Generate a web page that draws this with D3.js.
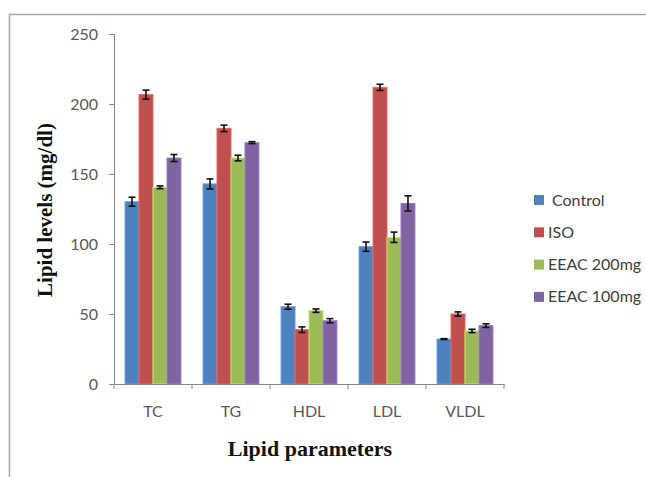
<!DOCTYPE html>
<html>
<head>
<meta charset="utf-8">
<script src="https://cdn.jsdelivr.net/npm/d3@7"></script>
<style>
  body { margin: 0; background: #fff; }
  svg { display: block; }
</style>
</head>
<body>
<div id="chart"></div>
<script>
const categories = ["TC", "TG", "HDL", "LDL", "VLDL"];
const groups = ["Control", "ISO", "EEAC 200mg", "EEAC 100mg"];
const colors = ["#4f81bd", "#c0504d", "#9bbb59", "#8064a2"];

const control = [130.2, 142.9, 55.2, 98.1, 32.1];
const iso = [206.7, 182.6, 38.8, 211.9, 50.0];
const eeac200 = [140.5, 161.4, 52.4, 104.8, 37.9];
const eeac100 = [161.4, 172.4, 45.2, 129.0, 41.7];

const controlErr = [3.2, 3.6, 1.8, 3.3, 0.3];
const isoErr = [3.2, 2.3, 2.0, 2.2, 1.5];
const eeac200Err = [1.0, 2.0, 1.2, 3.7, 1.2];
const eeac100Err = [2.5, 0.7, 1.5, 5.4, 1.3];

const yTicks = [0, 50, 100, 150, 200, 250];

const seriesValues = [control, iso, eeac200, eeac100];
const seriesErrors = [controlErr, isoErr, eeac200Err, eeac100Err];

const width = 646;
const height = 477;
const margin = { top: 34, left: 114, bottom: 93, plotRight: 504 };

const svg = d3.select("#chart")
  .append("svg")
  .attr("width", width)
  .attr("height", height);

// outer chart frame (only top & left show in the crop)
svg.append("rect")
  .attr("x", 9.5)
  .attr("y", 14.5)
  .attr("width", 700)
  .attr("height", 500)
  .attr("fill", "none")
  .attr("stroke", "#a6a6a6")
  .attr("stroke-width", 1.5);

const x = d3.scaleBand()
  .domain(categories)
  .range([margin.left, margin.plotRight]);

const xInner = d3.scaleBand()
  .domain(groups)
  .range([0, x.bandwidth()])
  .paddingOuter(0.79)
  .paddingInner(0);

const y = d3.scaleLinear()
  .domain([0, 250])
  .range([height - margin.bottom, margin.top]);

const axisColor = "#868686";
const labelFont = "Lato, 'Open Sans', sans-serif";

// y axis
const yAxis = svg.append("g")
  .attr("transform", `translate(${margin.left},0)`)
  .call(d3.axisLeft(y).tickValues(yTicks).tickSize(5).tickPadding(11));
yAxis.select(".domain").attr("stroke", axisColor);
yAxis.selectAll(".tick line").attr("stroke", axisColor);
yAxis.selectAll(".tick text")
  .attr("fill", "#595959")
  .attr("font-family", labelFont)
  .attr("font-size", 16);

// bars
const series = svg.append("g")
  .selectAll("g")
  .data(groups)
  .join("g")
  .attr("fill", (d, i) => colors[i]);

series.each(function (g, si) {
  const rows = categories.map((c, ci) => ({
    cat: c,
    value: seriesValues[si][ci],
    err: seriesErrors[si][ci]
  }));
  const sel = d3.select(this);
  sel.selectAll("rect")
    .data(rows)
    .join("rect")
    .attr("x", (d) => x(d.cat) + xInner(g))
    .attr("y", (d) => y(d.value))
    .attr("width", xInner.bandwidth())
    .attr("height", (d) => y(0) - y(d.value))
    .attr("stroke", d3.color(colors[si]).brighter(0.6))
    .attr("stroke-width", 1);

  const eb = sel.selectAll("g.err")
    .data(rows)
    .join("g")
    .attr("class", "err")
    .attr("stroke", "#111")
    .attr("stroke-width", 1.6);
  const cx = (d) => x(d.cat) + xInner(g) + xInner.bandwidth() / 2;
  eb.append("line")
    .attr("x1", cx).attr("x2", cx)
    .attr("y1", (d) => y(d.value + d.err))
    .attr("y2", (d) => y(d.value - d.err));
  eb.append("line")
    .attr("x1", (d) => cx(d) - 3.5).attr("x2", (d) => cx(d) + 3.5)
    .attr("y1", (d) => y(d.value + d.err)).attr("y2", (d) => y(d.value + d.err));
  eb.append("line")
    .attr("x1", (d) => cx(d) - 3.5).attr("x2", (d) => cx(d) + 3.5)
    .attr("y1", (d) => y(d.value - d.err)).attr("y2", (d) => y(d.value - d.err));
});

// x axis
const xAxis = svg.append("g")
  .attr("transform", `translate(0,${y(0)})`)
  .call(d3.axisBottom(x).tickSize(0).tickPadding(22));
xAxis.select(".domain").attr("stroke", axisColor);
xAxis.selectAll(".tick text")
  .attr("fill", "#595959")
  .attr("font-family", labelFont)
  .attr("font-size", 16);
xAxis.selectAll("line.sep")
  .data(d3.range(categories.length + 1))
  .join("line")
  .attr("class", "sep")
  .attr("x1", (i) => margin.left + i * x.step())
  .attr("x2", (i) => margin.left + i * x.step())
  .attr("y1", 0)
  .attr("y2", 5)
  .attr("stroke", axisColor);

// axis titles
svg.append("text")
  .attr("x", 310)
  .attr("y", 456)
  .attr("text-anchor", "middle")
  .attr("font-family", "'Liberation Serif', 'Times New Roman', serif")
  .attr("font-weight", "bold")
  .attr("font-size", 22)
  .attr("fill", "#111")
  .text("Lipid parameters");

svg.append("text")
  .attr("transform", "translate(52,210) rotate(-90)")
  .attr("text-anchor", "middle")
  .attr("font-family", "'Liberation Serif', 'Times New Roman', serif")
  .attr("font-weight", "bold")
  .attr("font-size", 21)
  .attr("fill", "#111")
  .text("Lipid levels (mg/dl)");

// legend
const legend = svg.append("g")
  .selectAll("g")
  .data(groups)
  .join("g")
  .attr("transform", (d, i) => `translate(534,${200 + i * 32.3})`);
legend.append("rect")
  .attr("x", 0)
  .attr("y", -5)
  .attr("width", 10)
  .attr("height", 10)
  .attr("fill", (d, i) => colors[i]);
legend.append("text")
  .attr("x", (d, i) => (i === 0 ? 18 : 14))
  .attr("y", 5.5)
  .attr("font-family", labelFont)
  .attr("font-size", 16)
  .attr("fill", "#404040")
  .text((d) => d);
</script>
</body>
</html>
